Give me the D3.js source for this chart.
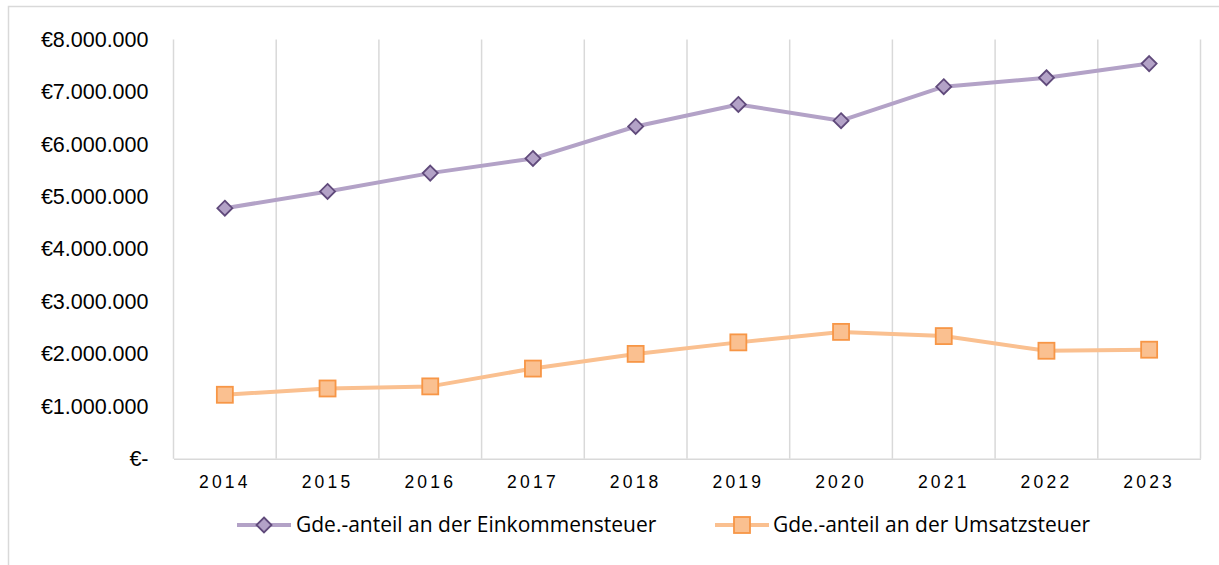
<!DOCTYPE html>
<html>
<head>
<meta charset="utf-8">
<script src="https://cdn.jsdelivr.net/npm/d3@7"></script>
<style>
  body { margin: 0; background: #fff; }
  svg { display: block; }
</style>
</head>
<body>
<script>
// data
var years = ['2014', '2015', '2016', '2017', '2018', '2019', '2020', '2021', '2022', '2023']
var einkommensteuer = [4780000, 5100000, 5450000, 5730000, 6340000, 6760000, 6450000, 7100000, 7270000, 7540000]
var umsatzsteuer = [1220000, 1340000, 1380000, 1720000, 2000000, 2220000, 2420000, 2340000, 2060000, 2080000]
var yTicks = [0, 1000000, 2000000, 3000000, 4000000, 5000000, 6000000, 7000000, 8000000]
var seriesNames = ['Gde.-anteil an der Einkommensteuer', 'Gde.-anteil an der Umsatzsteuer']

var W = 1219, H = 565
var plot = { left: 173.5, right: 1200.5, top: 39.5, bottom: 458.7 }

var svg = d3.select('body').append('svg')
    .attr('width', W)
    .attr('height', H)

// chart frame
svg.append('path')
    .attr('d', 'M8.5,' + H + ' V6.5 H' + W)
    .attr('fill', 'none')
    .attr('stroke', '#d9d9d9')
    .attr('stroke-width', 1.5)

// scales
var x = d3.scaleBand().domain(years).range([plot.left, plot.right]).padding(0)
var y = d3.scaleLinear().domain([0, 8000000]).range([plot.bottom, plot.top])

// vertical gridlines at category borders
var borders = years.map(d => x(d)).concat([plot.right])
svg.append('g').selectAll('line')
    .data(borders)
    .enter().append('line')
    .attr('x1', d => d).attr('x2', d => d)
    .attr('y1', plot.top).attr('y2', plot.bottom)
    .attr('stroke', '#d9d9d9')
    .attr('stroke-width', 1.5)

// x axis
var xAxis = svg.append('g')
    .attr('transform', 'translate(0,' + plot.bottom + ')')
    .call(d3.axisBottom(x).tickSize(0).tickPadding(17))
xAxis.select('.domain').attr('stroke', '#d9d9d9').attr('stroke-width', 1.5)
xAxis.selectAll('text')
    .attr('font-family', 'Liberation Sans, Arial, sans-serif')
    .attr('font-size', 17.5)
    .attr('letter-spacing', 3.2)
    .attr('fill', '#000')

// y axis labels
var fmt = d => d === 0 ? '€-' : '€' + d3.format(',')(d).replace(/,/g, '.')
var yAxis = svg.append('g')
    .attr('transform', 'translate(' + plot.left + ',0)')
    .call(d3.axisLeft(y).tickValues(yTicks).tickFormat(fmt).tickSize(0).tickPadding(25))
yAxis.select('.domain').remove()
yAxis.selectAll('text')
    .attr('font-family', 'Liberation Sans, Arial, sans-serif')
    .attr('font-size', 21.5)
    .attr('fill', '#000')

var series = [
    { name: seriesNames[0], values: einkommensteuer, line: '#b3a2c7', fill: '#b3a2c7', stroke: '#604a7b', symbol: 'diamond' },
    { name: seriesNames[1], values: umsatzsteuer, line: '#fac090', fill: '#fac090', stroke: '#f79646', symbol: 'square' }
]

var line = d3.line()
    .x((d, i) => x(years[i]) + x.bandwidth() / 2)
    .y(d => y(d))

function marker(g, s, cx, cy) {
    if (s.symbol === 'diamond') {
        g.append('path')
            .attr('d', 'M' + cx + ',' + (cy - 7.5) + ' L' + (cx + 7.5) + ',' + cy + ' L' + cx + ',' + (cy + 7.5) + ' L' + (cx - 7.5) + ',' + cy + ' Z')
            .attr('fill', s.fill)
            .attr('stroke', s.stroke)
            .attr('stroke-width', 1.8)
    } else {
        g.append('rect')
            .attr('x', cx - 8).attr('y', cy - 8)
            .attr('width', 16).attr('height', 16)
            .attr('fill', s.fill)
            .attr('stroke', s.stroke)
            .attr('stroke-width', 1.8)
    }
}

series.forEach(s => {
    svg.append('path')
        .datum(s.values)
        .attr('d', line)
        .attr('fill', 'none')
        .attr('stroke', s.line)
        .attr('stroke-width', 4)
        .attr('stroke-linejoin', 'round')
    var g = svg.append('g')
    s.values.forEach((v, i) => marker(g, s, x(years[i]) + x.bandwidth() / 2, y(v)))
})

// legend
var legendPos = [{ x: 237, tx: 296 }, { x: 715, tx: 773 }]
var legendY = 525
series.forEach((s, i) => {
    var lg = svg.append('g')
    lg.append('line')
        .attr('x1', legendPos[i].x).attr('x2', legendPos[i].x + 54)
        .attr('y1', legendY).attr('y2', legendY)
        .attr('stroke', s.line)
        .attr('stroke-width', 4)
    marker(lg, s, legendPos[i].x + 27, legendY)
    lg.append('text')
        .attr('x', legendPos[i].tx)
        .attr('y', legendY)
        .attr('dy', '0.35em')
        .attr('font-family', 'Open Sans, Noto Sans, sans-serif')
        .attr('font-size', 21)
        .attr('fill', '#000')
        .text(s.name)
})
</script>
</body>
</html>
